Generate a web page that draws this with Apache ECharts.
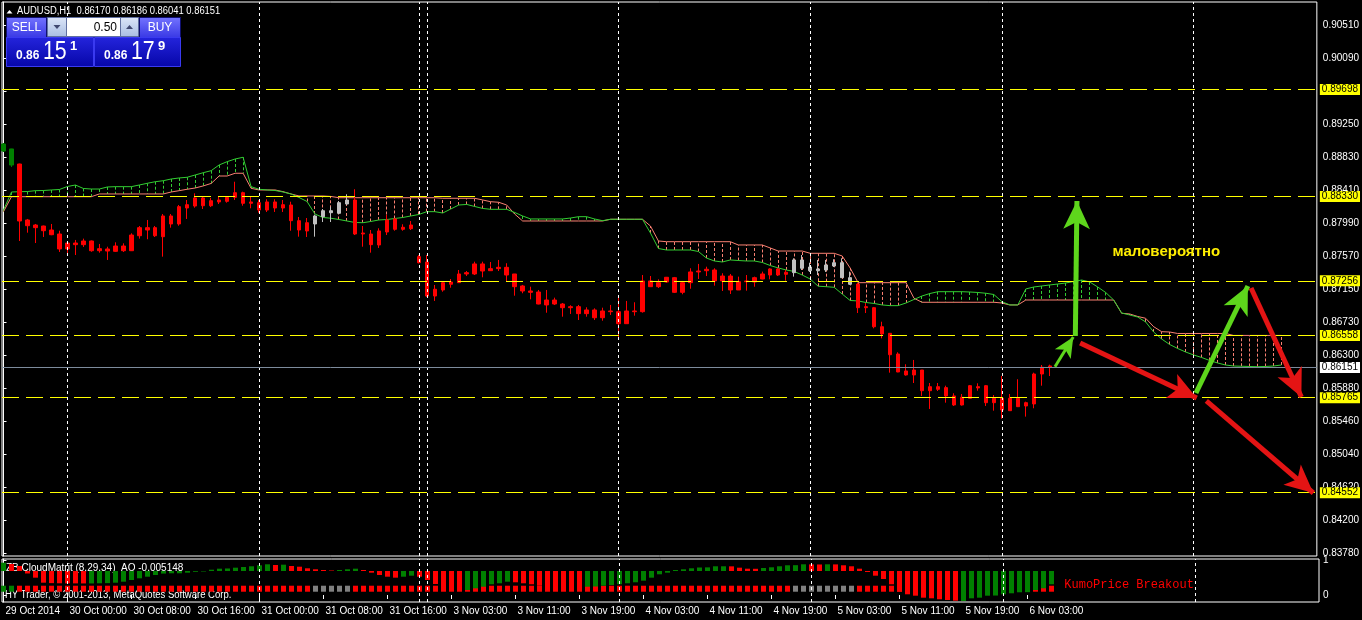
<!DOCTYPE html>
<html><head><meta charset="utf-8">
<script src="https://cdn.jsdelivr.net/npm/echarts@6/dist/echarts.min.js"></script>
<style>html,body{margin:0;padding:0;background:#000;}#c{width:1362px;height:620px;}</style>
</head><body><div id="c"></div>
<script>
// ---------------- DATA ----------------
const openP = [
0.88912,0.88938,0.88746,0.88032,0.87968,0.87955,0.87904,0.87853,0.87662,0.87738,
0.87717,0.87764,0.87640,0.87662,0.87632,0.87700,0.87640,0.87831,0.87934,0.87934,
0.87819,0.88083,0.87981,0.88185,0.88210,0.88313,0.88214,0.88262,0.88270,0.88321,
0.88380,0.88245,0.88253,0.88159,0.88262,0.88185,0.88223,0.88023,0.87892,0.87981,
0.88074,0.88150,0.88117,0.88236,0.88287,0.87853,0.87853,0.87713,0.87879,0.88045,
0.87913,0.87921,0.87564,0.87496,0.87062,0.87139,0.87212,0.87232,0.87343,0.87343,
0.87471,0.87385,0.87411,0.87428,0.87343,0.87190,0.87126,0.87113,0.86948,0.87011,
0.86960,0.86913,0.86926,0.86837,0.86884,0.86785,0.86871,0.86862,0.86709,0.86871,
0.86862,0.87254,0.87181,0.87241,0.87296,0.87109,0.87232,0.87369,0.87385,0.87394,
0.87254,0.87317,0.87139,0.87245,0.87241,0.87279,0.87330,0.87407,0.87339,0.87360,
0.87522,0.87432,0.87385,0.87394,0.87445,0.87487,0.87296,0.87215,0.86913,0.86913,
0.86670,0.86586,0.86322,0.86106,0.86055,0.86118,0.85854,0.85905,0.85893,0.85787,
0.85672,0.85757,0.85905,0.85918,0.85701,0.85757,0.85599,0.85757,0.85659,0.85685,
0.86067,0.86170];
const closeP = [
0.89001,0.88733,0.88019,0.87959,0.87934,0.87895,0.87844,0.87662,0.87738,0.87717,
0.87764,0.87640,0.87666,0.87636,0.87700,0.87640,0.87840,0.87934,0.87904,0.87831,
0.88083,0.87981,0.88202,0.88227,0.88313,0.88214,0.88278,0.88287,0.88321,0.88380,
0.88245,0.88262,0.88159,0.88262,0.88185,0.88227,0.88023,0.87904,0.87997,0.88083,
0.88150,0.88125,0.88253,0.88287,0.87853,0.87866,0.87717,0.87892,0.88032,0.87913,
0.87939,0.87968,0.87487,0.87062,0.87148,0.87232,0.87241,0.87343,0.87360,0.87471,
0.87381,0.87411,0.87428,0.87330,0.87181,0.87126,0.87109,0.86960,0.87011,0.86960,
0.86913,0.86926,0.86837,0.86884,0.86785,0.86871,0.86862,0.86709,0.86871,0.86862,
0.87254,0.87181,0.87232,0.87301,0.87109,0.87232,0.87369,0.87381,0.87403,0.87254,
0.87317,0.87139,0.87245,0.87254,0.87296,0.87343,0.87407,0.87330,0.87365,0.87522,
0.87416,0.87385,0.87407,0.87458,0.87487,0.87296,0.87212,0.86913,0.86926,0.86670,
0.86578,0.86313,0.86093,0.86055,0.86118,0.85854,0.85905,0.85872,0.85787,0.85672,
0.85770,0.85918,0.85889,0.85701,0.85757,0.85608,0.85757,0.85650,0.85701,0.86067,
0.86153,0.86151];
const lowP = [
0.88899,0.88708,0.87764,0.87870,0.87738,0.87815,0.87838,0.87624,0.87585,0.87585,
0.87688,0.87627,0.87615,0.87522,0.87624,0.87624,0.87636,0.87794,0.87786,0.87815,
0.87564,0.87934,0.87959,0.88045,0.88189,0.88172,0.88197,0.88236,0.88253,0.88287,
0.88214,0.88181,0.88125,0.88134,0.88134,0.88134,0.87895,0.87819,0.87815,0.87819,
0.88006,0.88006,0.88108,0.88223,0.87840,0.87691,0.87615,0.87675,0.87840,0.87895,
0.87895,0.87904,0.87477,0.87050,0.86999,0.87117,0.87168,0.87228,0.87317,0.87330,
0.87301,0.87381,0.87381,0.87241,0.87066,0.87097,0.87020,0.86956,0.86849,0.86948,
0.86798,0.86833,0.86756,0.86798,0.86756,0.86747,0.86820,0.86501,0.86705,0.86811,
0.86850,0.87177,0.87164,0.87232,0.87100,0.87084,0.87155,0.87279,0.87317,0.87194,
0.87126,0.87088,0.87139,0.87130,0.87181,0.87275,0.87275,0.87317,0.87258,0.87309,
0.87394,0.87369,0.87330,0.87369,0.87432,0.87296,0.87203,0.86845,0.86845,0.86650,
0.86522,0.86084,0.86090,0.86046,0.85952,0.85787,0.85621,0.85850,0.85701,0.85659,
0.85664,0.85757,0.85854,0.85659,0.85599,0.85497,0.85599,0.85646,0.85523,0.85630,
0.85918,0.86041];
const highP = [
0.89014,0.88940,0.88750,0.88045,0.87981,0.87960,0.87981,0.87895,0.87750,0.87777,
0.87794,0.87770,0.87726,0.87691,0.87747,0.87734,0.87862,0.87955,0.88032,0.87955,
0.88108,0.88108,0.88223,0.88287,0.88372,0.88325,0.88313,0.88338,0.88329,0.88520,
0.88393,0.88325,0.88287,0.88296,0.88296,0.88287,0.88265,0.88070,0.88057,0.88100,
0.88172,0.88202,0.88274,0.88360,0.88424,0.87955,0.87904,0.87926,0.88096,0.88057,
0.87977,0.88019,0.87585,0.87585,0.87203,0.87245,0.87279,0.87394,0.87381,0.87500,
0.87500,0.87496,0.87522,0.87480,0.87343,0.87203,0.87181,0.87139,0.87139,0.87041,
0.86973,0.86944,0.86948,0.86918,0.86905,0.86913,0.86948,0.87075,0.86999,0.86982,
0.87330,0.87317,0.87275,0.87305,0.87305,0.87254,0.87416,0.87471,0.87436,0.87416,
0.87352,0.87343,0.87309,0.87330,0.87309,0.87373,0.87416,0.87420,0.87394,0.87543,
0.87585,0.87487,0.87522,0.87522,0.87531,0.87543,0.87373,0.87228,0.86973,0.86922,
0.86734,0.86590,0.86344,0.86191,0.86246,0.86118,0.85952,0.85952,0.85918,0.85821,
0.85812,0.85927,0.85948,0.85927,0.85799,0.86042,0.85812,0.86000,0.85714,0.86084,
0.86182,0.86186];
// candle colour class by cloud position: G above, R below, N inside (runs)
const candleRuns = [['G',2],['R',37],['N',5],['R',55],['N',8],['R',25]];

// Ichimoku cloud spans (shifted forward), bar 0..160
const spanA = [
0.88159,0.88389,0.88393,0.88395,0.88406,0.88408,0.88415,0.88421,0.88459,0.88478,
0.88434,0.88427,0.88427,0.88453,0.88457,0.88457,0.88457,0.88478,0.88500,0.88520,
0.88533,0.88555,0.88568,0.88577,0.88606,0.88635,0.88661,0.88734,0.88776,0.88810,
0.88832,0.88457,0.88424,0.88415,0.88408,0.88389,0.88364,0.88319,0.88268,0.88108,
0.88064,0.88054,0.88038,0.88019,0.88000,0.87997,0.88013,0.88032,0.88038,0.88051,
0.88064,0.88083,0.88102,0.88138,0.88138,0.88121,0.88172,0.88223,0.88230,0.88204,
0.88179,0.88168,0.88168,0.88168,0.88128,0.88083,0.88045,0.88045,0.88045,0.88045,
0.88045,0.88057,0.88074,0.88074,0.88045,0.88023,0.88041,0.88041,0.88041,0.88041,
0.88041,0.87866,0.87668,0.87649,0.87649,0.87649,0.87649,0.87630,0.87547,0.87509,
0.87496,0.87522,0.87515,0.87509,0.87509,0.87490,0.87451,0.87420,0.87394,0.87375,
0.87330,0.87279,0.87187,0.87181,0.87173,0.87088,0.87005,0.86999,0.86979,0.86967,
0.86948,0.86939,0.86939,0.86973,0.87018,0.87062,0.87094,0.87117,0.87117,0.87117,
0.87117,0.87113,0.87107,0.87097,0.87081,0.86990,0.86948,0.86948,0.87152,0.87177,
0.87190,0.87203,0.87215,0.87228,0.87247,0.87266,0.87241,0.87177,0.87107,0.87011,
0.86845,0.86820,0.86794,0.86731,0.86603,0.86514,0.86444,0.86393,0.86348,0.86310,
0.86278,0.86240,0.86208,0.86182,0.86169,0.86166,0.86163,0.86160,0.86163,0.86169,
0.86182];
const spanB = [
0.88138,0.88329,0.88329,0.88329,0.88329,0.88329,0.88329,0.88329,0.88329,0.88329,
0.88329,0.88329,0.88364,0.88364,0.88364,0.88364,0.88364,0.88364,0.88364,0.88364,
0.88364,0.88389,0.88406,0.88424,0.88440,0.88466,0.88498,0.88593,0.88593,0.88628,
0.88628,0.88436,0.88415,0.88415,0.88415,0.88393,0.88364,0.88338,0.88338,0.88338,
0.88338,0.88332,0.88316,0.88316,0.88316,0.88316,0.88316,0.88316,0.88316,0.88316,
0.88316,0.88316,0.88316,0.88316,0.88316,0.88309,0.88309,0.88309,0.88309,0.88309,
0.88287,0.88265,0.88258,0.88223,0.88108,0.88019,0.88019,0.88019,0.88019,0.88019,
0.88019,0.88019,0.88019,0.88019,0.88019,0.88019,0.88041,0.88041,0.88041,0.88041,
0.88041,0.87955,0.87764,0.87755,0.87755,0.87755,0.87755,0.87755,0.87755,0.87755,
0.87755,0.87755,0.87713,0.87713,0.87713,0.87713,0.87675,0.87636,0.87636,0.87636,
0.87636,0.87607,0.87607,0.87607,0.87607,0.87573,0.87420,0.87232,0.87232,0.87232,
0.87232,0.87232,0.87232,0.87232,0.87033,0.86982,0.86982,0.86982,0.86982,0.86982,
0.86982,0.86982,0.86982,0.86982,0.86982,0.86973,0.86948,0.86948,0.87011,0.87011,
0.87011,0.87011,0.87011,0.87011,0.87011,0.87011,0.87011,0.87011,0.87011,0.87011,
0.86842,0.86833,0.86801,0.86778,0.86671,0.86607,0.86603,0.86584,0.86584,0.86584,
0.86584,0.86584,0.86584,0.86584,0.86559,0.86559,0.86559,0.86559,0.86559,0.86559,
0.86559];

// Awesome-oscillator histogram of the CloudMatrix window
const aoValues = [
0.00321,0.00271,0.00194,-0.00097,-0.00259,-0.00453,-0.00470,-0.00476,-0.00480,-0.00480,
-0.00482,-0.00482,-0.00476,-0.00470,-0.00453,-0.00414,-0.00348,-0.00283,-0.00221,-0.00155,
-0.00100,-0.00089,-0.00089,-0.00066,-0.00031,-0.00019,0.00050,0.00089,0.00097,0.00128,
0.00155,0.00182,0.00221,0.00259,0.00232,0.00244,0.00194,0.00166,0.00104,0.00066,
0.00039,0.00019,0.00039,0.00066,0.00089,0.00039,-0.00066,-0.00155,-0.00221,-0.00259,
-0.00221,-0.00182,-0.00221,-0.00348,-0.00503,-0.00600,-0.00608,-0.00612,-0.00735,-0.00670,
-0.00608,-0.00515,-0.00476,-0.00414,-0.00437,-0.00476,-0.00515,-0.00569,-0.00600,-0.00608,
-0.00608,-0.00608,-0.00612,-0.00608,-0.00600,-0.00569,-0.00542,-0.00515,-0.00476,-0.00437,
-0.00375,-0.00259,-0.00128,-0.00066,0.00039,0.00066,0.00104,0.00135,0.00140,0.00182,
0.00182,0.00180,0.00128,0.00089,0.00085,0.00116,0.00143,0.00182,0.00221,0.00225,
0.00259,0.00255,0.00252,0.00259,0.00255,0.00221,0.00182,0.00089,-0.00039,-0.00182,
-0.00310,-0.00515,-0.00801,-0.00902,-0.00956,-0.01033,-0.01057,-0.01095,-0.01122,-0.01149,
-0.01161,-0.01057,-0.01033,-0.00956,-0.00950,-0.00902,-0.00863,-0.00824,-0.00820,-0.00735,
-0.00670,-0.005148];
const aoRuns = [['G',1],['R',10],['G',23],['R',1],['G',1],['R',6],['G',3],['R',5],['G',2],['R',6],
  ['G',6],['R',9],['G',18],['R',4],['G',6],['R',2],['G',1],['R',16],['G',12]];

const levels = [0.89698, 0.88330, 0.87256, 0.86558, 0.85765, 0.84552];
const bidPrice = 0.86151;
const separators = [8, 32, 52, 53, 77, 101, 125, 149];
const priceTicks = [0.90510,0.90090,0.89670,0.89250,0.88830,0.88410,0.87990,0.87570,0.87150,
  0.86730,0.86300,0.85880,0.85460,0.85040,0.84620,0.84200,0.83780];
const timeTickIdx = [0,8,16,24,32,40,48,56,64,72,80,88,96,104,112,120,128];
const timeTickLabels = ['29 Oct 2014','30 Oct 00:00','30 Oct 08:00','30 Oct 16:00','31 Oct 00:00',
  '31 Oct 08:00','31 Oct 16:00','3 Nov 03:00','3 Nov 11:00','3 Nov 19:00','4 Nov 03:00',
  '4 Nov 11:00','4 Nov 19:00','5 Nov 03:00','5 Nov 11:00','5 Nov 19:00','6 Nov 03:00'];
// drawn arrows (bar index, price): tail and tip
const arrowFrom = [[131.65,0.86160],[134.2,0.86552],[134.8,0.86463],[149.3,0.85825],[156.2,0.87164],[150.6,0.85723]];
const arrowTo   = [[133.94,0.86539],[134.4,0.88274],[149.4,0.85761],[155.8,0.87190],[162.5,0.85774],[164.0,0.84549]];
const arrowKind = ['g','g','r','g','r','r'];
const noteText = ['маловероятно'];
const notePos = [[145.6, 0.87624]];

// ---------------- STYLE ----------------
const SANS = '"Liberation Sans",Arial,sans-serif';
const C = {R:'#ff0000', G:'#008000', N:'#c0c0c0'};
const SQ = {R:'#ff0000', G:'#008000', N:'#808080'};
const GREEN_LINE = '#32cd32', SALMON = '#fa8072';
const xMin = -0.1875, xMax = 164.4375;

function expand(runs){const a=[];runs.forEach(([k,n])=>{for(let i=0;i<n;i++)a.push(k);});return a;}
const candleClass = expand(candleRuns);
const aoClass = expand(aoRuns);

const candleData = {R:[],G:[],N:[]};
openP.forEach((o,i)=>candleData[candleClass[i]].push([i,o,closeP[i],lowP[i],highP[i]]));
function candleSeries(k){
  return {type:'candlestick', xAxisIndex:0, yAxisIndex:0, data:candleData[k], barWidth:4, z:3,
    encode:{x:0,y:[1,2,3,4]},
    itemStyle:{color:C[k],color0:C[k],borderColor:C[k],borderColor0:C[k],borderWidth:1}};
}

const chart = echarts.init(document.getElementById('c'), null, {renderer:'canvas'});

function txt(x,y,text,size,color,o){o=o||{};
  const el = {type:'text', x:x, y:y, z:o.z==null?100:o.z, silent:true,
    style:{text:text, fill:color, font:(o.bold?'bold ':'')+size+'px '+(o.family||SANS),
      align:o.align||'left', verticalAlign:'middle'}};
  if (o.sx) el.scaleX = o.sx;
  return el;}
function grad(a,b){return new echarts.graphic.LinearGradient(0,0,0,1,[{offset:0,color:a},{offset:1,color:b}]);}
function rect(x,y,w,h,fill,stroke){return {type:'rect', z:100, silent:true, shape:{x:x,y:y,width:w,height:h}, style:{fill:fill, stroke:stroke, lineWidth:1}};}

const graphics = [
  {type:'polygon', z:100, silent:true, shape:{points:[[6.5,13.5],[9.5,10],[12.5,13.5]]}, style:{fill:'#fff'}},
  txt(17,11,'AUDUSD,H1  0.86170 0.86186 0.86041 0.86151',10,'#fff',{sx:0.94}),
  rect(6.5,17.5,40,20,grad('#7474ff','#3838e4'),'#101070'),
  txt(26.5,27.5,'SELL',12,'#fff',{align:'center'}),
  rect(47.5,17.5,19,19,grad('#dce6f8','#a9bde2'),'#6070a0'),
  {type:'polygon', z:101, silent:true, shape:{points:[[53.5,25],[60.5,25],[57,29]]}, style:{fill:'#404870'}},
  rect(66.5,17.5,54,19,'#ffffff','#6070a0'),
  txt(117,27.5,'0.50',12,'#000',{align:'right'}),
  rect(120.5,17.5,18,19,grad('#dce6f8','#a9bde2'),'#6070a0'),
  {type:'polygon', z:101, silent:true, shape:{points:[[126,29],[133,29],[129.5,25]]}, style:{fill:'#404870'}},
  rect(139.5,17.5,41,20,grad('#7474ff','#3838e4'),'#101070'),
  txt(160,27.5,'BUY',12,'#fff',{align:'center'}),
  rect(6.5,37.5,87,29,grad('#2424dc','#0606a8'),'#3a3af0'),
  rect(94.5,37.5,86,29,grad('#2424dc','#0606a8'),'#3a3af0'),
  txt(16,55.5,'0.86',12,'#fff',{bold:true}),
  txt(43,51.5,'15',26,'#fff',{sx:0.82}),
  txt(70,46,'1',13,'#fff',{bold:true}),
  txt(104,55.5,'0.86',12,'#fff',{bold:true}),
  txt(131,51.5,'17',26,'#fff',{sx:0.82}),
  txt(158,46,'9',13,'#fff',{bold:true}),
  txt(6,568,'ZB CloudMatrit (8,29,34)  AO -0.005148',10,'#fff',{z:1}),
  txt(5,595.5,'HY Trader, © 2001-2013, MetaQuotes Software Corp.',10,'#fff',{z:1,sx:0.95})
];

const arrowData = arrowFrom.map((f,i)=>{
  const col = arrowKind[i]==='g' ? '#5ed61c' : '#e41414';
  const small = i===0;
  return [{coord:f, symbol:'none', lineStyle:{color:col,width:small?3:5,type:'solid'}},
          {coord:arrowTo[i], symbol:'arrow', symbolSize: small?[14,20]:[20,28],
           itemStyle:{color:col}}];
});

const sepLine = {symbol:['none','none'], silent:true, animation:false, precision:5,
  lineStyle:{color:'#ffffff',width:1,type:[3,3]}, label:{show:false},
  data: separators.map(v=>({xAxis:v}))};
const plainLabel = {textBorderWidth:0, textBorderColor:'transparent', textShadowBlur:0, opacity:1};

const option = {
  backgroundColor:'#000000',
  animation:false,
  grid:[
    {left:2, top:2, width:1317, height:554, show:true, borderColor:'#ffffff', borderWidth:1, backgroundColor:'transparent'},
    {left:2, top:559, width:1317, height:43, show:true, borderColor:'#ffffff', borderWidth:1, backgroundColor:'transparent'}
  ],
  xAxis:[
    {type:'value', gridIndex:0, min:xMin, max:xMax, show:false},
    {type:'value', gridIndex:1, min:xMin, max:xMax,
      axisLine:{show:false}, splitLine:{show:false},
      axisTick:{show:true, customValues:timeTickIdx, length:4, lineStyle:{color:'#ffffff'}},
      axisLabel:{show:true, customValues:timeTickIdx, color:'#ffffff', fontSize:10, fontFamily:SANS,
        align:'left', margin:4, padding:[0,0,0,2],
        formatter:v=>{const k=timeTickIdx.indexOf(Math.round(v));return k<0?'':timeTickLabels[k];}}}
  ],
  yAxis:[
    {type:'value', gridIndex:0, position:'right', min:0.83745, max:0.90813, splitLine:{show:false},
      axisLine:{show:true, lineStyle:{color:'#ffffff'}},
      axisTick:{show:true, customValues:priceTicks, length:3, lineStyle:{color:'#ffffff'}},
      axisLabel:{show:true, customValues:priceTicks, color:'#ffffff', fontSize:10, fontFamily:SANS, margin:6,
        formatter:v=>Number(v).toFixed(5)}},
    {type:'value', gridIndex:1, position:'right', min:-0.2, max:1.03, splitLine:{show:false},
      axisLine:{show:true, lineStyle:{color:'#ffffff'}},
      axisTick:{show:true, customValues:[0,1], length:3, lineStyle:{color:'#ffffff'}},
      axisLabel:{show:true, customValues:[0,1], color:'#ffffff', fontSize:10, fontFamily:SANS, margin:4,
        formatter:v=>String(Math.round(v))}},
    {type:'value', gridIndex:1, position:'right', min:-0.0120, max:0.00464, show:false}
  ],
  graphic: graphics,
  series:[
    {type:'custom', name:'hatch', xAxisIndex:0, yAxisIndex:0, z:1, silent:true,
      data: spanA.map((a,i)=>[i,a,spanB[i]]),
      renderItem:(params, api)=>{
        const i=api.value(0), a=api.value(1), b=api.value(2);
        const p1=api.coord([i,a]), p2=api.coord([i,b]);
        const x=Math.round(p1[0]-0.5)+0.5;
        return {type:'line', shape:{x1:x,y1:p1[1],x2:x,y2:p2[1]},
          style:{stroke: a>=b?GREEN_LINE:SALMON, lineWidth:1, lineDash:[3,2]}};
      }},
    {type:'line', name:'spanB', xAxisIndex:0, yAxisIndex:0, z:2, showSymbol:false, silent:true,
      data: spanB.map((v,i)=>[i,v]), lineStyle:{color:SALMON,width:1}, itemStyle:{color:SALMON}},
    {type:'line', name:'spanA', xAxisIndex:0, yAxisIndex:0, z:2, showSymbol:false, silent:true,
      data: spanA.map((v,i)=>[i,v]), lineStyle:{color:GREEN_LINE,width:1}, itemStyle:{color:GREEN_LINE}},
    candleSeries('R'), candleSeries('G'), candleSeries('N'),
    {type:'line', name:'separators', xAxisIndex:0, yAxisIndex:0, z:6, data:[], markLine:sepLine},
    {type:'line', name:'levels', xAxisIndex:0, yAxisIndex:0, z:7, data:[], color:'#ffff00',
      lineStyle:{color:'#ffff00'}, itemStyle:{color:'#ffff00'},
      markLine:{symbol:['none','none'], silent:true, animation:false, precision:5,
        lineStyle:{color:'#ffff00', width:1, type:[17,7], opacity:1},
        label:{show:true, position:'end', distance:3, padding:[1,2,0,2], fontSize:10, fontFamily:SANS,
          color:'#000', backgroundColor:'#ffff00', formatter:p=>Number(p.value).toFixed(5)},
        data: levels.map(v=>({yAxis:v}))}},
    {type:'line', name:'bid', xAxisIndex:0, yAxisIndex:0, z:7, data:[], color:'#7d8b9c',
      markLine:{symbol:['none','none'], silent:true, animation:false, precision:5,
        lineStyle:{color:'#7d8b9c', width:1, type:'solid', opacity:1},
        label:{show:true, position:'end', distance:3, padding:[1,2,0,2], fontSize:10, fontFamily:SANS,
          color:'#000', backgroundColor:'#ffffff', formatter:p=>Number(p.value).toFixed(5)},
        data: [{yAxis:bidPrice}]}},
    {type:'line', name:'arrows', xAxisIndex:0, yAxisIndex:0, z:20, data:[],
      markLine:{silent:true, animation:false, precision:5, label:{show:false}, symbol:['none','arrow'], data: arrowData}},
    {type:'scatter', name:'note', xAxisIndex:0, yAxisIndex:0, z:21, symbolSize:1, silent:true,
      itemStyle:{color:'rgba(0,0,0,0)', opacity:1},
      data: notePos.map((p,i)=>({value:p, name:noteText[i]})),
      label:Object.assign({show:true, position:'inside', formatter:p=>p.name, color:'#ffee00', fontSize:15,
        fontWeight:'bold', fontFamily:SANS, align:'center', verticalAlign:'middle'}, plainLabel)},
    {type:'bar', name:'AO', xAxisIndex:1, yAxisIndex:2, z:3, barWidth:5, silent:true,
      data: aoValues.map((v,i)=>({value:[i,v], itemStyle:{color:aoClass[i]==='G'?'#008000':'#ff0000'}}))},
    {type:'scatter', name:'state', xAxisIndex:1, yAxisIndex:1, z:2, symbol:'rect', symbolSize:[5,6], silent:true,
      itemStyle:{opacity:1},
      data: candleClass.map((k,i)=>({value:[i,0.18], itemStyle:{color:SQ[k], opacity:1}}))},
    {type:'scatter', name:'kumoText', xAxisIndex:1, yAxisIndex:1, z:5, symbolSize:1, silent:true,
      itemStyle:{color:'rgba(0,0,0,0)', opacity:1},
      data:[{value:[132.6,0.29], name:'KumoPrice Breakout'}],
      label:Object.assign({show:true, position:'inside', formatter:p=>p.name, color:'#ff0000', fontSize:12,
        fontFamily:'"Liberation Mono","Courier New",monospace', align:'left', verticalAlign:'middle'}, plainLabel)},
    {type:'line', name:'separators2', xAxisIndex:1, yAxisIndex:1, z:6, data:[], markLine:sepLine}
  ]
};
chart.setOption(option);
</script>
</body></html>
